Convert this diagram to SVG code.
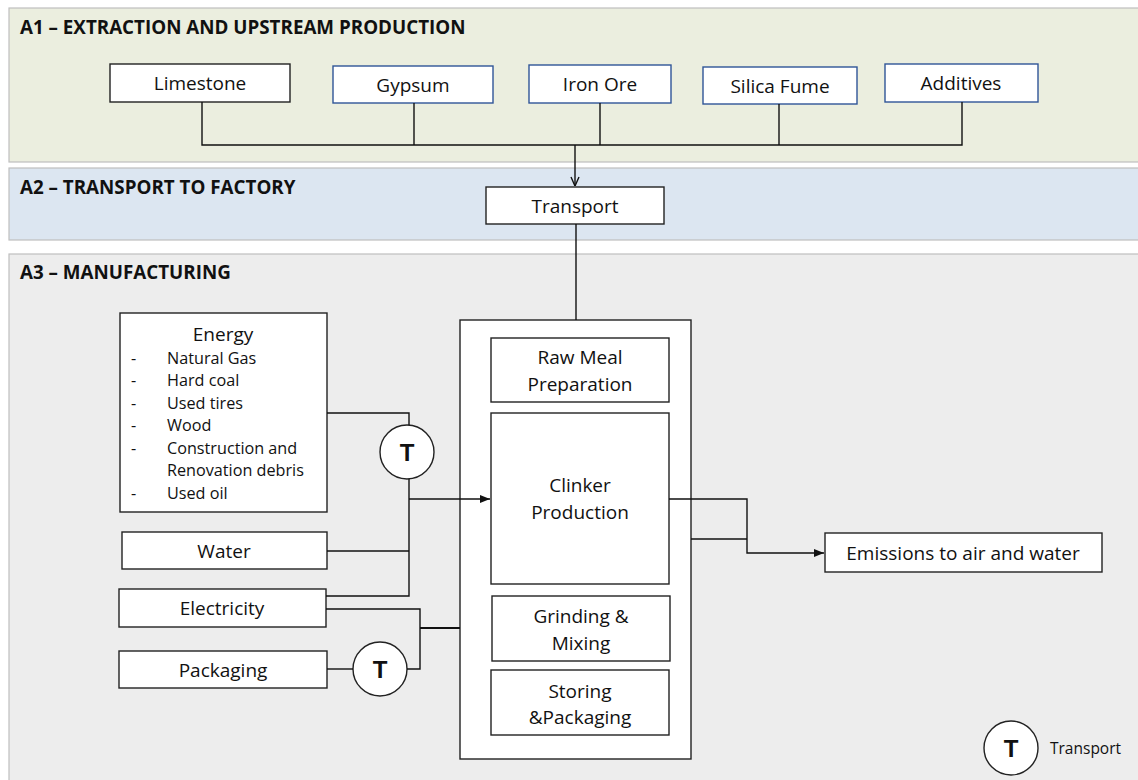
<svg xmlns="http://www.w3.org/2000/svg" width="1138" height="780" viewBox="0 0 1138 780">
<style>
.band{stroke:#bfbfbf;stroke-width:1.2}
.box{fill:#fff;stroke:#222;stroke-width:1.4}
.bbox{fill:#fff;stroke:#2f5597;stroke-width:1.4}
.t{font-family:"Open Sans","Liberation Sans",sans-serif;font-size:19px;fill:#111;text-anchor:middle;dominant-baseline:central}
.tl{font-family:"Open Sans","Liberation Sans",sans-serif;font-size:16.2px;fill:#111;dominant-baseline:central}
.h{font-family:"Open Sans","Liberation Sans",sans-serif;font-size:18.8px;font-weight:bold;fill:#111}
.c{fill:#fff;stroke:#222;stroke-width:1.4}
.ct{font-family:"Liberation Sans",Arial,sans-serif;font-size:24px;font-weight:bold;fill:#111;text-anchor:middle;dominant-baseline:central}
.ln{fill:none;stroke:#111;stroke-width:1.4}
</style>
<defs>
<marker id="open" viewBox="0 0 10 10" refX="10" refY="5" markerWidth="10" markerHeight="10" markerUnits="userSpaceOnUse" orient="auto"><path d="M1,1 L10,5 L1,9" fill="none" stroke="#111" stroke-width="1.4"/></marker>
<marker id="fill" viewBox="0 0 10 10" refX="10" refY="5" markerWidth="10" markerHeight="10" markerUnits="userSpaceOnUse" orient="auto"><path d="M0,1 L10,5 L0,9 Z" fill="#111"/></marker>
</defs>
<rect width="1138" height="780" fill="#fff"/>
<g id="bands">
<rect class="band" x="9" y="8" width="1130" height="154" fill="#ebeedf"/>
<rect class="band" x="9" y="168" width="1130" height="72" fill="#dce6f1"/>
<rect class="band" x="9" y="254" width="1130" height="530" fill="#ededed"/>
<text class="h" x="20" y="34">A1 – EXTRACTION AND UPSTREAM PRODUCTION</text>
<text class="h" x="20" y="194">A2 – TRANSPORT TO FACTORY</text>
<text class="h" x="20" y="279">A3 – MANUFACTURING</text>
</g>
<g id="limestone"><rect class="box" x="110" y="64" width="180" height="38"/><text class="t" x="200" y="83">Limestone</text></g>
<g id="gypsum"><rect class="bbox" x="333" y="66" width="160" height="37"/><text class="t" x="413" y="85">Gypsum</text></g>
<g id="ironore"><rect class="bbox" x="529" y="65" width="142" height="38"/><text class="t" x="600" y="84">Iron Ore</text></g>
<g id="silicafume"><rect class="bbox" x="703" y="67" width="154" height="37"/><text class="t" x="780" y="86">Silica Fume</text></g>
<g id="additives"><rect class="bbox" x="885" y="64" width="153" height="38"/><text class="t" x="961" y="83">Additives</text></g>
<g id="transport"><rect class="box" x="486" y="187" width="178" height="37"/><text class="t" x="575" y="206">Transport</text></g>
<g id="energy">
<rect class="box" x="120" y="313" width="207" height="199"/>
<text class="t" x="223" y="334">Energy</text>
<text class="tl" x="131" y="358">-</text><text class="tl" x="167" y="358">Natural Gas</text>
<text class="tl" x="131" y="380">-</text><text class="tl" x="167" y="380">Hard coal</text>
<text class="tl" x="131" y="403">-</text><text class="tl" x="167" y="403">Used tires</text>
<text class="tl" x="131" y="425">-</text><text class="tl" x="167" y="425">Wood</text>
<text class="tl" x="131" y="448">-</text><text class="tl" x="167" y="448">Construction and</text>
<text class="tl" x="167" y="470">Renovation debris</text>
<text class="tl" x="131" y="493">-</text><text class="tl" x="167" y="493">Used oil</text>
</g>
<g id="t-energy"><circle class="c" cx="407" cy="452" r="27"/><text class="ct" x="407" y="452">T</text></g>
<g id="water"><rect class="box" x="122" y="532" width="205" height="37"/><text class="t" x="224" y="551">Water</text></g>
<g id="electricity"><rect class="box" x="119" y="589" width="207" height="38"/><text class="t" x="222" y="608">Electricity</text></g>
<g id="packaging"><rect class="box" x="119" y="651" width="208" height="37"/><text class="t" x="223" y="670">Packaging</text></g>
<g id="t-packaging"><circle class="c" cx="380" cy="669" r="27"/><text class="ct" x="380" y="669">T</text></g>
<g id="manufacturing">
<rect class="box" x="460" y="320" width="231" height="439"/>
<g id="rawmeal"><rect class="box" x="491" y="338" width="178" height="64"/><text class="t" x="580" y="357">Raw Meal</text><text class="t" x="580" y="384">Preparation</text></g>
<g id="clinker"><rect class="box" x="491" y="413" width="178" height="171"/><text class="t" x="580" y="485">Clinker</text><text class="t" x="580" y="512">Production</text></g>
<g id="grinding"><rect class="box" x="492" y="596" width="178" height="65"/><text class="t" x="581" y="616">Grinding &amp;</text><text class="t" x="581" y="643">Mixing</text></g>
<g id="storing"><rect class="box" x="491" y="670" width="178" height="65"/><text class="t" x="580" y="691">Storing</text><text class="t" x="580" y="717">&amp;Packaging</text></g>
</g>
<g id="emissions"><rect class="box" x="825" y="533" width="277" height="39"/><text class="t" x="963" y="553">Emissions to air and water</text></g>
<g id="legend"><circle class="c" cx="1011" cy="748" r="27"/><text class="ct" x="1011" y="748">T</text><text class="tl" x="1050" y="748" style="font-size:15.5px">Transport</text></g>
<g id="connectors">
<path class="ln" d="M202,102 V145 H962 V102"/>
<path class="ln" d="M414,103 V145"/>
<path class="ln" d="M600,103 V145"/>
<path class="ln" d="M779,104 V145"/>
<path class="ln" d="M575,145 V186" marker-end="url(#open)"/>
<path class="ln" d="M576,224 V320"/>
<path class="ln" d="M327,413 H409 V425"/>
<path class="ln" d="M409,479 V596 H326"/>
<path class="ln" d="M409,499 H490" marker-end="url(#fill)"/>
<path class="ln" d="M327,551 H409"/>
<path class="ln" d="M326,609 H420 V669 H407"/>
<path class="ln" d="M327,669 H353"/>
<path class="ln" d="M420,628 H460" style="stroke-width:2"/>
<path class="ln" d="M669,499 H747 V553 H824" marker-end="url(#fill)"/>
<path class="ln" d="M691,539 H747"/>
</g>
</svg>
